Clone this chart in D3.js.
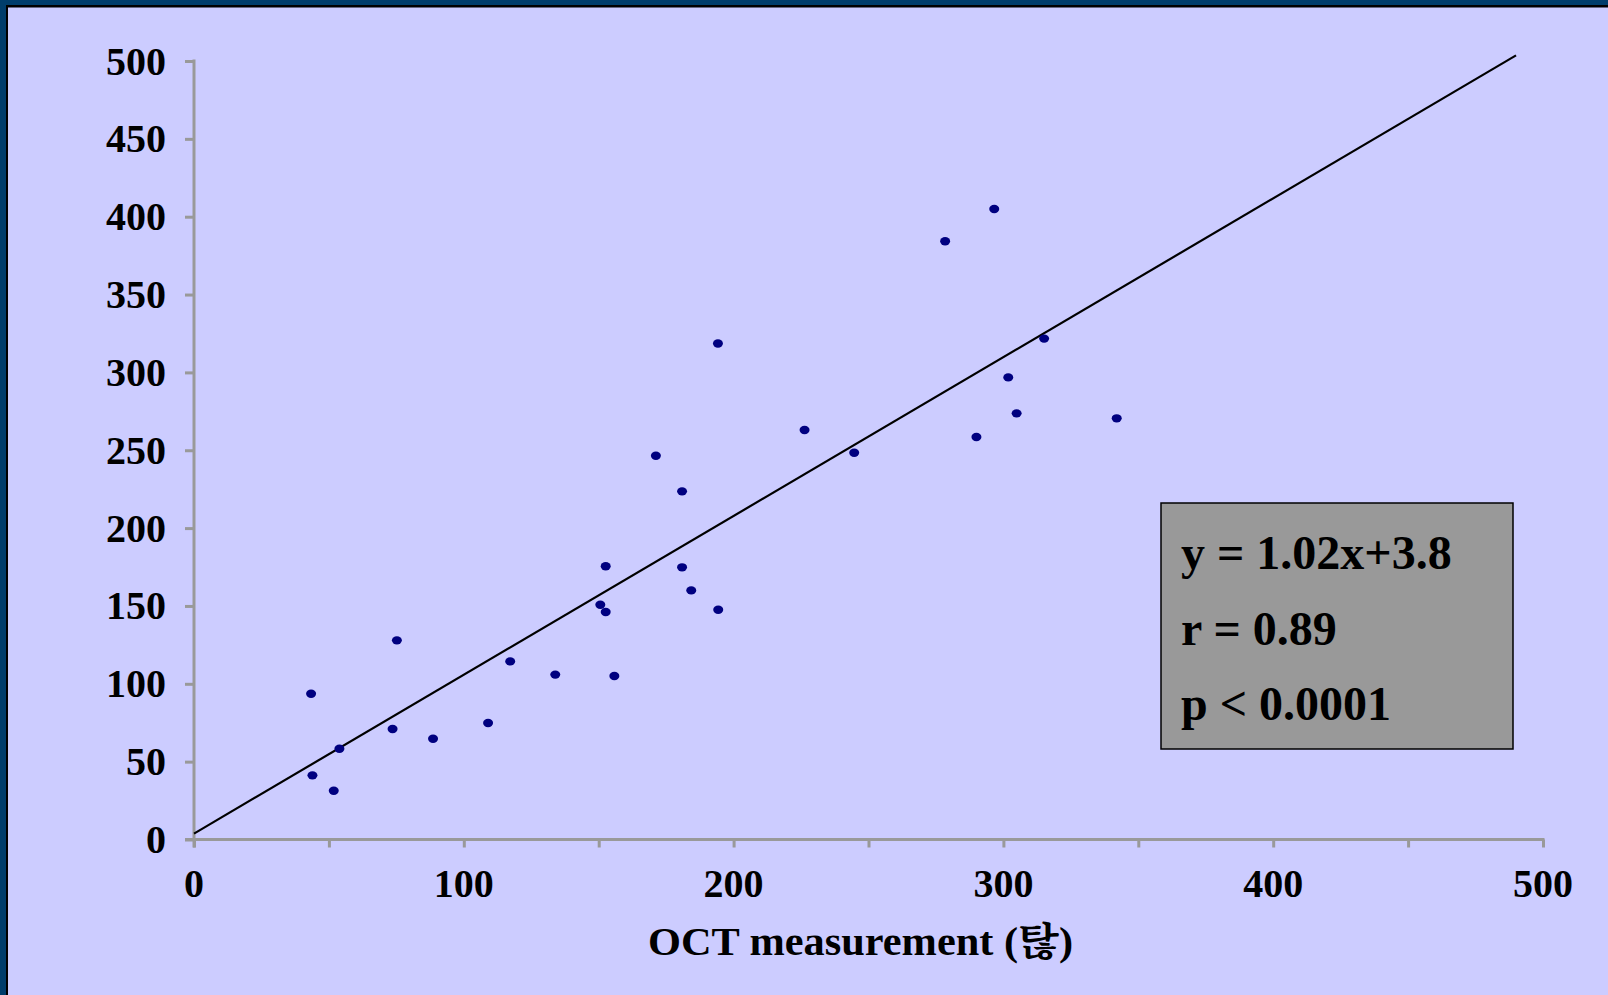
<!DOCTYPE html>
<html>
<head>
<meta charset="utf-8">
<script src="https://d3js.org/d3.v7.min.js"></script>
<style>
  body { margin: 0; padding: 0; background: #ccccff; }
  svg { display: block; }
  .tickLabel { font-family: "Liberation Serif", "Times New Roman", serif; font-weight: bold; }
</style>
</head>
<body>
<svg id="chart-svg" width="1608" height="995"></svg>
<script>
var svg_chart = d3.select("#chart-svg");

// Data
var oct_values = [75.2, 43.4, 53.9, 43.9, 51.8, 73.6, 88.6, 109.0, 117.2, 133.9, 150.6, 152.6, 155.8,
                  171.2, 180.9, 226.3, 244.7, 152.6, 180.9, 184.3, 194.3, 194.2,
                  296.6, 278.4, 315.1, 301.8, 304.9, 342.0, 290.0];
var ref_values = [127.9, 93.6, 58.3, 41.2, 31.3, 71.0, 64.7, 74.8, 114.4, 105.9, 150.8, 146.1, 105.0,
                  246.5, 223.6, 263.0, 248.4, 175.5, 174.8, 160.0, 147.6, 318.6,
                  404.9, 384.2, 321.7, 296.8, 273.7, 270.5, 258.5];
var axis_ticks = [0, 100, 200, 300, 400, 500];
var minor_ticks = [0, 50, 100, 150, 200, 250, 300, 350, 400, 450, 500];
var y_ticks = [0, 50, 100, 150, 200, 250, 300, 350, 400, 450, 500];
var fit_slope = 1.02;
var fit_intercept = 3.8;
var fit_range = [0, 490];
var stat_lines = ["y = 1.02x+3.8", "r = 0.89", "p < 0.0001"];
var x_title = "OCT measurement (탆)";

// Colors
var bg_color = "#ccccff";
var axis_gray = "#999999";
var dot_blue = "#000080";

// Scales
var x = d3.scaleLinear().domain([0, 500]).range([194, 1543]);
var y = d3.scaleLinear().domain([0, 500]).range([839.5, 61]);

// Frame (only left and top edges show in the picture)
svg_chart.append("rect")
         .attr("x", 0).attr("y", 0)
         .attr("width", 1608).attr("height", 995)
         .style("fill", "#003d6b");
svg_chart.append("rect")
         .attr("x", 6).attr("y", 5)
         .attr("width", 1608).attr("height", 995)
         .style("fill", "#000000");
svg_chart.append("rect")
         .attr("x", 8).attr("y", 7.5)
         .attr("width", 1608).attr("height", 995)
         .style("fill", bg_color);

// Y axis
var yAxis = d3.axisLeft(y).tickValues(y_ticks).tickSize(9).tickFormat("");
var gy = svg_chart.append("g")
                  .attr("transform", "translate(" + x(0) + ",0)")
                  .call(yAxis);
gy.select(".domain").remove();
gy.selectAll("line").style("stroke", axis_gray).style("stroke-width", 3);
gy.append("line")
  .attr("x1", 0).attr("x2", 0)
  .attr("y1", y(500) - 1.5).attr("y2", y(0) + 8)
  .style("stroke", axis_gray).style("stroke-width", 3);

svg_chart.selectAll(".yLabel")
         .data(y_ticks)
         .enter()
         .append("text")
         .attr("class", "tickLabel yLabel")
         .attr("x", 166)
         .attr("y", function(d) { return y(d) + 13.5; })
         .attr("text-anchor", "end")
         .style("font-size", "40px")
         .text(function(d) { return d; });

// X axis
var xAxis = d3.axisBottom(x).tickValues(minor_ticks).tickSize(8).tickFormat("");
var gx = svg_chart.append("g")
                  .attr("transform", "translate(0," + y(0) + ")")
                  .call(xAxis);
gx.select(".domain").remove();
gx.selectAll("line").style("stroke", axis_gray).style("stroke-width", 3);
gx.append("line")
  .attr("x1", x(0) - 9).attr("x2", x(500) + 1.5)
  .attr("y1", 0).attr("y2", 0)
  .style("stroke", axis_gray).style("stroke-width", 3);

svg_chart.selectAll(".xLabel")
         .data(axis_ticks)
         .enter()
         .append("text")
         .attr("class", "tickLabel xLabel")
         .attr("x", function(d) { return x(d); })
         .attr("y", 897)
         .attr("text-anchor", "middle")
         .style("font-size", "40px")
         .text(function(d) { return d; });

// X axis title (stretched a bit wider, like the original)
svg_chart.append("text")
         .attr("class", "tickLabel")
         .attr("x", 648)
         .attr("y", 955)
         .attr("textLength", 425)
         .attr("lengthAdjust", "spacingAndGlyphs")
         .style("font-size", "39px")
         .style("font-family", "'Liberation Serif', 'Noto Serif CJK KR', 'Noto Sans CJK KR', serif")
         .text(x_title);

// Fit line
svg_chart.append("line")
         .attr("x1", x(fit_range[0]))
         .attr("y1", y(fit_slope * fit_range[0] + fit_intercept))
         .attr("x2", x(fit_range[1]))
         .attr("y2", y(fit_slope * fit_range[1] + fit_intercept))
         .style("stroke", "#000000")
         .style("stroke-width", 2.2);

// Points
svg_chart.selectAll(".dot")
         .data(oct_values)
         .enter()
         .append("ellipse")
         .attr("class", "dot")
         .attr("cx", function(d) { return x(d); })
         .attr("cy", function(d, i) { return y(ref_values[i]); })
         .attr("rx", 5)
         .attr("ry", 4.2)
         .style("fill", dot_blue);

// Stats box
svg_chart.append("rect")
         .attr("x", 1161).attr("y", 503)
         .attr("width", 352).attr("height", 246)
         .style("fill", "#999999")
         .style("stroke", "#000000")
         .style("stroke-width", 1.5);

svg_chart.selectAll(".statLabel")
         .data(stat_lines)
         .enter()
         .append("text")
         .attr("class", "tickLabel statLabel")
         .attr("x", 1181)
         .attr("y", function(d, i) { return 569 + i * 75.5; })
         .style("font-size", "48px")
         .text(function(d) { return d; });
</script>
</body>
</html>
